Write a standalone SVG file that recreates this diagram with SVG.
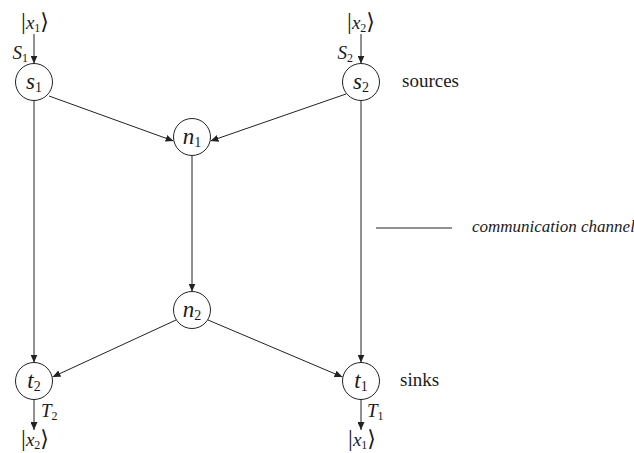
<svg xmlns="http://www.w3.org/2000/svg" width="634" height="453" viewBox="0 0 634 453">
<style>
.node{fill:#fff;stroke:#222;stroke-width:1}
.edge{stroke:#222;stroke-width:1;fill:none}
text{font-family:'Liberation Serif','DejaVu Serif',serif;fill:#1a1a1a}
.it{font-style:italic}
.big{font-size:23px}
.sub{font-size:14px}
.small{font-size:12px}
.word{font-size:19px}
.bar{font-size:24px}
.ket{font-size:22px}
.var{font-size:19px;font-style:italic}
</style>
<defs>
<marker id="ah" markerUnits="userSpaceOnUse" markerWidth="8" markerHeight="7" refX="8" refY="3.5" orient="auto">
<path d="M0,0 L8,3.5 L0,7 z" fill="#222"/>
</marker>
</defs>
<rect width="634" height="453" fill="#fff"/>
<g id="connectors">
<line class="edge" x1="34" y1="34" x2="34" y2="63.5" marker-end="url(#ah)"/>
<line class="edge" x1="361" y1="34" x2="361" y2="63.5" marker-end="url(#ah)"/>
<line class="edge" x1="34" y1="100.5" x2="34" y2="362.5" marker-end="url(#ah)"/>
<line class="edge" x1="361" y1="100.5" x2="361" y2="362.5" marker-end="url(#ah)"/>
<line class="edge" x1="49" y1="96" x2="173.5" y2="141" marker-end="url(#ah)"/>
<line class="edge" x1="346" y1="94" x2="210.5" y2="141" marker-end="url(#ah)"/>
<line class="edge" x1="192" y1="155.5" x2="192" y2="291.5" marker-end="url(#ah)"/>
<line class="edge" x1="176" y1="320" x2="52.5" y2="377" marker-end="url(#ah)"/>
<line class="edge" x1="208" y1="320" x2="342.5" y2="377" marker-end="url(#ah)"/>
<line class="edge" x1="34" y1="399.5" x2="34" y2="430" marker-end="url(#ah)"/>
<line class="edge" x1="361" y1="399.5" x2="361" y2="430" marker-end="url(#ah)"/>
<line class="edge" x1="376" y1="228" x2="452" y2="228"/>
</g>
<g id="s1">
<circle class="node" cx="34" cy="82" r="18.5"/>
<text x="34" y="89" text-anchor="middle"><tspan class="it big">s</tspan><tspan class="sub" dy="3">1</tspan></text>
</g>
<g id="s2">
<circle class="node" cx="361" cy="82" r="18.5"/>
<text x="361" y="89" text-anchor="middle"><tspan class="it big">s</tspan><tspan class="sub" dy="3">2</tspan></text>
</g>
<g id="n1">
<circle class="node" cx="192" cy="137" r="18.5"/>
<text x="192" y="144" text-anchor="middle"><tspan class="it big">n</tspan><tspan class="sub" dy="3">1</tspan></text>
</g>
<g id="n2">
<circle class="node" cx="192" cy="310" r="18.5"/>
<text x="192" y="317" text-anchor="middle"><tspan class="it big">n</tspan><tspan class="sub" dy="3">2</tspan></text>
</g>
<g id="t2">
<circle class="node" cx="34" cy="381" r="18.5"/>
<text x="34" y="388" text-anchor="middle"><tspan class="it big">t</tspan><tspan class="sub" dy="3">2</tspan></text>
</g>
<g id="t1">
<circle class="node" cx="361" cy="381" r="18.5"/>
<text x="361" y="388" text-anchor="middle"><tspan class="it big">t</tspan><tspan class="sub" dy="3">1</tspan></text>
</g>
<g id="labels">
<text x="35" y="29" text-anchor="middle"><tspan class="bar">|</tspan><tspan class="var">x</tspan><tspan class="small" dy="3">1</tspan><tspan class="ket" dy="-3" font-family="DejaVu Sans">⟩</tspan></text>
<text x="361" y="29" text-anchor="middle"><tspan class="bar">|</tspan><tspan class="var">x</tspan><tspan class="small" dy="3">2</tspan><tspan class="ket" dy="-3" font-family="DejaVu Sans">⟩</tspan></text>
<text x="28" y="59" text-anchor="end"><tspan class="var">S</tspan><tspan class="small" dy="3">1</tspan></text>
<text x="353" y="59" text-anchor="end"><tspan class="var">S</tspan><tspan class="small" dy="3">2</tspan></text>
<text x="41" y="417"><tspan class="var">T</tspan><tspan class="small" dy="3">2</tspan></text>
<text x="367" y="417"><tspan class="var">T</tspan><tspan class="small" dy="3">1</tspan></text>
<text x="35" y="446" text-anchor="middle"><tspan class="bar">|</tspan><tspan class="var">x</tspan><tspan class="small" dy="3">2</tspan><tspan class="ket" dy="-3" font-family="DejaVu Sans">⟩</tspan></text>
<text x="362" y="446" text-anchor="middle"><tspan class="bar">|</tspan><tspan class="var">x</tspan><tspan class="small" dy="3">1</tspan><tspan class="ket" dy="-3" font-family="DejaVu Sans">⟩</tspan></text>
<text class="word" x="402" y="87">sources</text>
<text class="word" x="400" y="386">sinks</text>
<text class="it" x="472" y="232" font-size="17">communication channel</text>
</g>
</svg>
